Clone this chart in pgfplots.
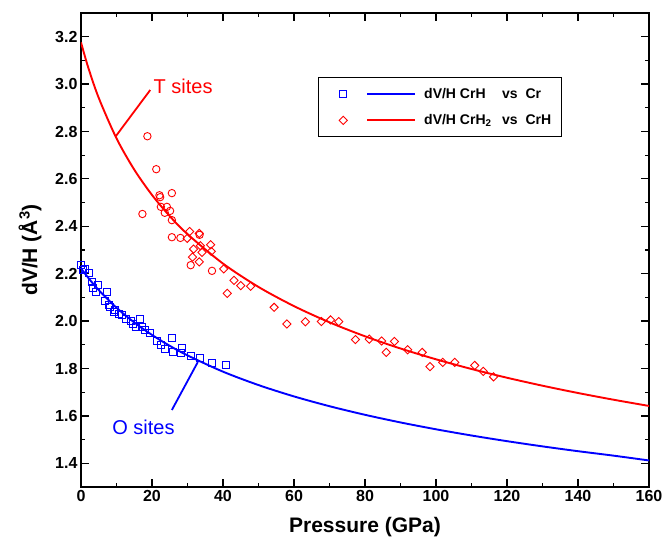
\documentclass[border=0pt]{standalone}
\usepackage{fontspec}
\setmainfont{Liberation Sans}
\usepackage{pgfplots}
\pgfplotsset{compat=1.18}
\begin{document}
\begin{tikzpicture}
\begin{axis}[
  at={(0pt,0pt)}, anchor=south west,
  scale only axis, width=568pt, height=474pt,
  xmin=0, xmax=160, ymin=1.3, ymax=3.3,
  xtick={0,20,40,60,80,100,120,140,160},
  ytick={1.4,1.6,1.8,2.0,2.2,2.4,2.6,2.8,3.0,3.2},
  minor x tick num=1, minor y tick num=1,
  tick align=inside, xtick pos=both, ytick pos=both,
  xticklabel pos=lower, yticklabel pos=left,
  major tick length=8pt, minor tick length=4.5pt,
  axis line style={line width=1.6pt},
  every tick/.style={black, line width=1.2pt},
  /pgf/number format/assume math mode=true,
  ticklabel style={font=\bfseries\fontsize{16}{18}\selectfont},
  yticklabel style={/pgf/number format/.cd, fixed, fixed zerofill, precision=1},
  xticklabel style={/pgf/number format/.cd, fixed, precision=0},
  xlabel={Pressure (GPa)}, ylabel={dV/H (Å\textsuperscript{3})},
  label style={font=\bfseries\fontsize{21}{24}\selectfont},
  xlabel style={at={(axis description cs:0.5,-0.084)}, anchor=center},
  ylabel style={at={(axis description cs:-0.0898,0.5)}, anchor=center},
  legend style={at={(0.417,0.865)}, anchor=north west, draw=black, line width=0.9pt,
    font=\bfseries\fontsize{14}{16}\selectfont, inner xsep=8pt, inner ysep=8.5pt,
    row sep=11pt},
  legend cell align=left,
]
% blue squares
\addplot[only marks, mark=square, mark size=3.5pt, blue, mark options={line width=0.9pt}, forget plot] coordinates {
(0.1,2.237) (0.6,2.216) (1.0,2.220) (2.3,2.203) (3.2,2.165) (4.7,2.151) (3.3,2.140)
(4.2,2.121) (7.2,2.124) (6.8,2.085) (7.9,2.068) (8.2,2.060) (9.6,2.047) (9.3,2.038)
(10.8,2.029) (11.4,2.026) (12.8,2.009) (14.1,2.002) (14.7,1.988) (16.6,2.007) (15.4,1.975)
(17.2,1.975) (18.0,1.962) (19.5,1.950) (21.3,1.915) (22.5,1.900) (25.7,1.927) (23.7,1.882)
(25.8,1.871) (28.5,1.888) (28.1,1.864) (31.0,1.854) (33.4,1.845) (37.0,1.824) (40.9,1.817)
};
% red circles
\addplot[only marks, mark=o, mark size=3.7pt, red, mark options={line width=0.9pt}, forget plot] coordinates {
(18.7,2.780) (21.2,2.641) (22.1,2.531) (22.3,2.523) (25.6,2.540) (17.3,2.452) (22.5,2.482)
(24.2,2.482) (25.1,2.465) (23.6,2.457) (25.6,2.426) (25.6,2.354) (28.0,2.351) (33.4,2.364)
(30.9,2.236) (36.9,2.212)
};
% red diamonds
\addplot[only marks, mark=square, mark size=2.9pt, red, mark options={rotate=45, line width=0.9pt}, forget plot] coordinates {
(30.6,2.378) (33.3,2.370) (29.9,2.349) (33.6,2.318) (36.5,2.322) (31.7,2.304) (34.1,2.290)
(36.7,2.294) (31.4,2.270) (33.3,2.250) (40.2,2.220) (41.2,2.117) (43.1,2.172) (45.0,2.150)
(47.8,2.147) (54.4,2.058) (58.0,1.988) (63.2,1.997) (67.7,1.998) (70.3,2.005) (72.6,1.998)
(77.3,1.922) (81.2,1.924) (84.7,1.916) (86.0,1.868) (88.3,1.914) (92.0,1.879) (96.1,1.868)
(98.3,1.808) (101.9,1.826) (105.3,1.826) (110.9,1.813) (113.3,1.788) (116.2,1.765)
};
% blue fit
\addplot[blue, line width=1.9pt, smooth, legend image code/.code={
  \path (-16pt,0pt);
  \draw[blue, line width=0.9pt] (-3.5pt,-3.5pt) rectangle (3.5pt,3.5pt);
  \draw[blue, line width=1.9pt] (24pt,0pt) -- (72pt,0pt);
  \path (78pt,0pt);}] coordinates {
(0,2.2230) (2,2.1835) (5,2.1307) (10,2.0564) (15,1.9944) (20,1.9416) (25,1.8957)
(30,1.8553) (40,1.7866) (50,1.7301) (60,1.6822) (70,1.6409) (80,1.6046) (90,1.5724)
(100,1.5435) (110,1.5173) (120,1.4934) (130,1.4714) (140,1.4511) (150,1.4323) (160,1.4120)
};
\addlegendentry{\makebox[78pt][l]{dV/H CrH}vs\ \ Cr}
% red fit
\addplot[red, line width=1.9pt, smooth, legend image code/.code={
  \path (-16pt,0pt);
  \draw[red, line width=0.9pt] (0pt,-4.1pt) -- (4.1pt,0pt) -- (0pt,4.1pt) -- (-4.1pt,0pt) -- cycle;
  \draw[red, line width=1.9pt] (24pt,0pt) -- (72pt,0pt);
  \path (78pt,0pt);}] coordinates {
(0,3.1760) (2,3.0719) (5,2.9416) (10,2.7711) (15,2.6391) (20,2.5322) (25,2.4430)
(30,2.3669) (40,2.2427) (50,2.1441) (60,2.0632) (70,1.9948) (80,1.9359) (90,1.8844)
(100,1.8388) (110,1.7979) (120,1.7610) (130,1.7274) (140,1.6966) (150,1.6683) (160,1.6420)
};
\addlegendentry{\makebox[78pt][l]{dV/H CrH\textsubscript{2}}vs\ \ CrH}
% annotations
\draw[red, line width=1.8pt] (axis cs:9.8,2.780) -- (axis cs:19.5,2.975);
\node[red, anchor=west, font=\fontsize{20}{24}\selectfont, inner sep=0pt] at (axis cs:20.4,2.99) {T sites};
\draw[blue, line width=1.8pt] (axis cs:32.9,1.827) -- (axis cs:25.6,1.625);
\node[blue, anchor=center, font=\fontsize{20}{24}\selectfont, inner sep=0pt] at (axis cs:17.6,1.55) {O sites};
\end{axis}
\pgfresetboundingbox
\path[use as bounding box] (-81pt,-56pt) rectangle (582pt,487pt);
\end{tikzpicture}
\end{document}
